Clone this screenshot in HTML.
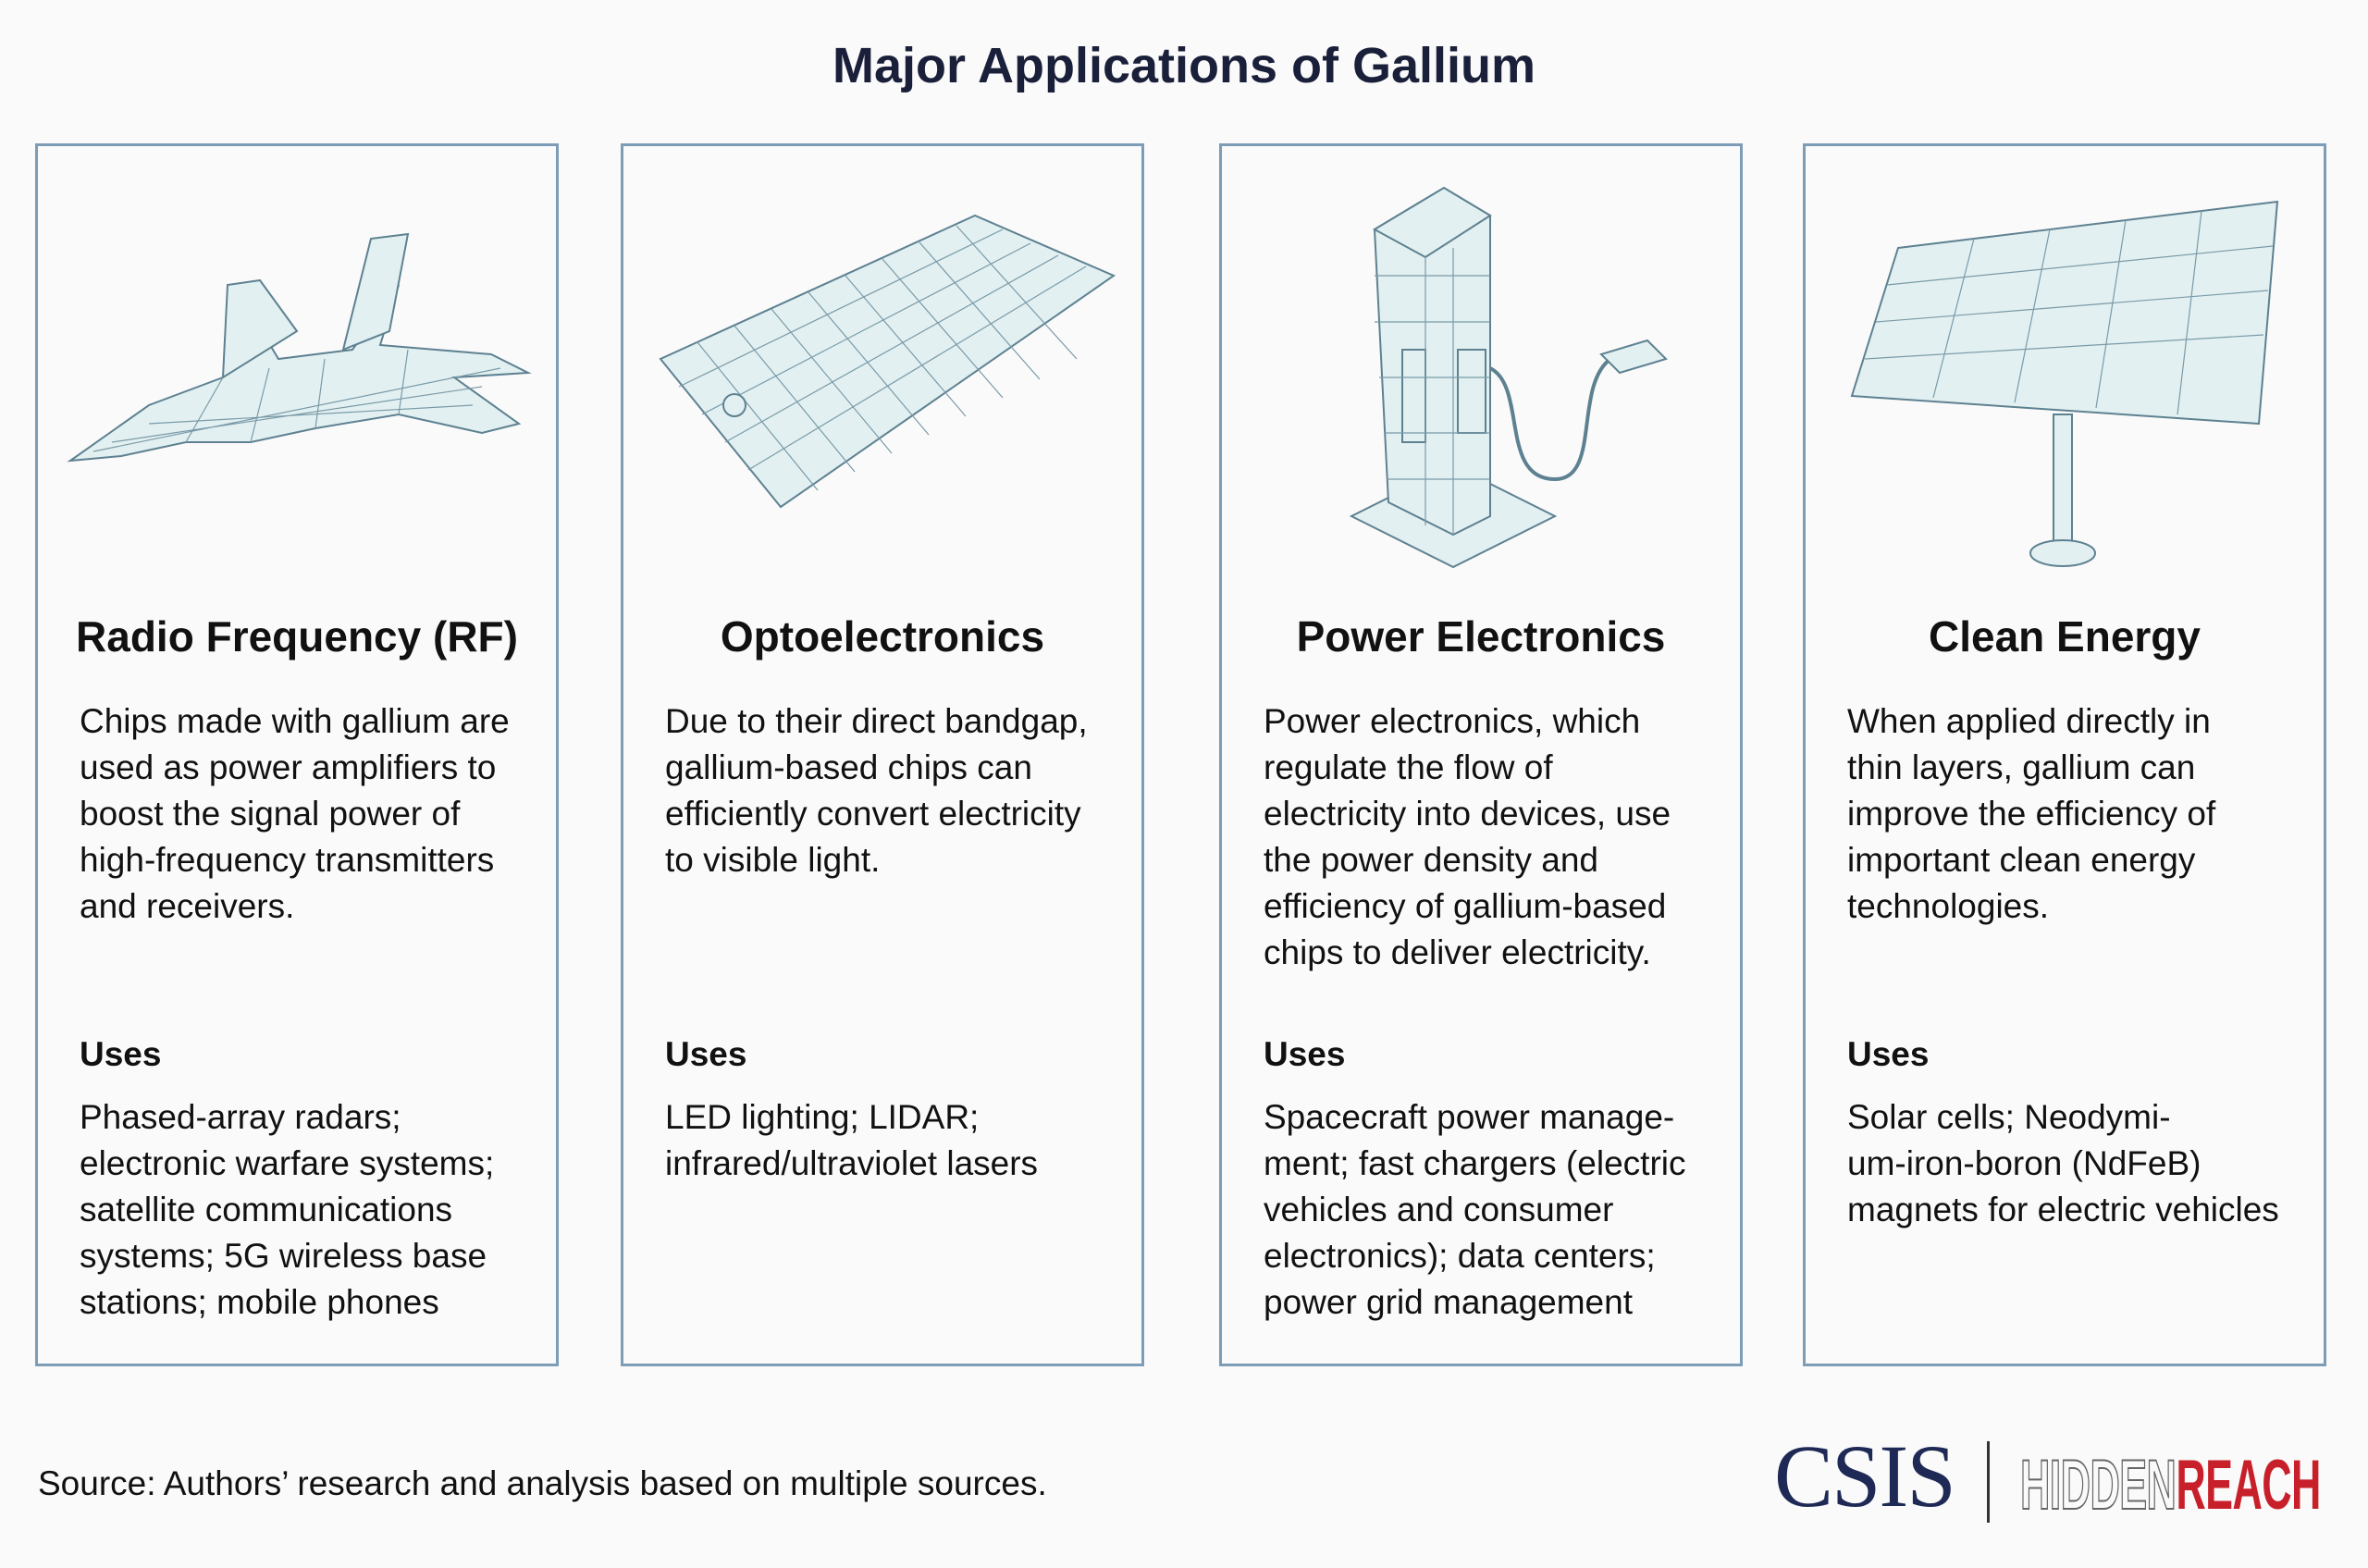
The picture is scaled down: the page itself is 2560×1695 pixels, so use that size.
<!DOCTYPE html>
<html><head><meta charset="utf-8"><style>
body{margin:0;width:2560px;height:1695px;background:#fafafa;font-family:"Liberation Sans",sans-serif;color:#111;position:relative;overflow:hidden}
.t{position:absolute;left:0;width:2560px;top:40px;text-align:center;font-weight:bold;font-size:54px;color:#1a1f3a}
.box{position:absolute;top:155px;width:566px;height:1322px;border:3px solid #7d9cb6;box-sizing:border-box}
.h{position:absolute;top:503px;left:0;width:100%;text-align:center;font-weight:bold;font-size:46px;color:#111}
.p{position:absolute;left:45px;top:597px;font-size:37px;line-height:50px;white-space:nowrap}
.u{position:absolute;left:45px;top:961px;font-size:37px;font-weight:bold}
.l{position:absolute;left:45px;top:1025px;font-size:37px;line-height:50px;white-space:nowrap}
svg{position:absolute}
.ill{fill:#e2f0f1;stroke:#5e8191;stroke-width:2}
.g{stroke:#7a9aa8;stroke-width:1.2;fill:none}
</style></head><body>
<div class="t">Major Applications of Gallium</div>

<div class="box" style="left:38px">
<svg width="562" height="400" style="left:0;top:0">
<polygon class="ill" points="35,340 120,280 200,250 230,180 260,230 340,220 390,150 370,215 490,225 530,245 450,250 520,300 480,310 390,290 300,305 230,320 160,320 90,335"/>
<polygon class="ill" points="200,250 205,150 240,145 280,200"/>
<polygon class="ill" points="330,220 360,100 400,95 380,200"/>
<path class="g" d="M60,330 L500,240 M80,320 L480,260 M120,300 L470,280 M160,320 L200,250 M230,320 L250,240 M300,305 L310,230 M390,290 L400,220"/>
</svg>
<div class="h">Radio Frequency (RF)</div>
<div class="p">Chips made with gallium are<br>used as power amplifiers to<br>boost the signal power of<br>high-frequency transmitters<br>and receivers.</div>
<div class="u">Uses</div>
<div class="l">Phased-array radars;<br>electronic warfare systems;<br>satellite communications<br>systems; 5G wireless base<br>stations; mobile phones</div>
</div>

<div class="box" style="left:671px">
<svg width="562" height="400" style="left:0;top:0">
<polygon class="ill" points="40,230 380,75 530,140 170,390"/>
<path class="g" d="M80,212 L210,372 M120,194 L250,352 M160,176 L290,332 M200,158 L330,312 M240,140 L370,292 M280,122 L410,272 M320,104 L450,252 M360,86 L490,230 M60,260 L410,90 M85,290 L440,105 M110,320 L470,118 M135,350 L500,130"/>
<circle cx="120" cy="280" r="12" class="ill"/>
</svg>
<div class="h">Optoelectronics</div>
<div class="p">Due to their direct bandgap,<br>gallium-based chips can<br>efficiently convert electricity<br>to visible light.</div>
<div class="u">Uses</div>
<div class="l">LED lighting; LIDAR;<br>infrared/ultraviolet lasers</div>
</div>

<div class="box" style="left:1318px">
<svg width="562" height="460" style="left:0;top:0">
<polygon class="ill" points="140,400 250,455 360,400 250,345"/>
<polygon class="ill" points="165,90 240,45 290,75 290,400 250,420 180,385"/>
<polygon class="ill" points="165,90 240,45 290,75 220,120"/>
<rect x="195" y="220" width="25" height="100" class="ill"/>
<rect x="255" y="220" width="30" height="90" class="ill"/>
<path d="M290,240 C330,260 300,360 360,360 C410,360 380,260 420,230" fill="none" stroke="#5e8191" stroke-width="4"/>
<polygon class="ill" points="410,225 460,210 480,230 430,245"/>
<path class="g" d="M165,140 L290,140 M165,190 L290,190 M170,250 L290,250 M175,310 L290,310 M178,360 L290,360 M220,120 L220,410 M250,110 L250,420"/>
</svg>
<div class="h">Power Electronics</div>
<div class="p">Power electronics, which<br>regulate the flow of<br>electricity into devices, use<br>the power density and<br>efficiency of gallium-based<br>chips to deliver electricity.</div>
<div class="u">Uses</div>
<div class="l">Spacecraft power manage-<br>ment; fast chargers (electric<br>vehicles and consumer<br>electronics); data centers;<br>power grid management</div>
</div>

<div class="box" style="left:1949px">
<svg width="562" height="470" style="left:0;top:0">
<rect x="268" y="290" width="20" height="140" class="ill"/>
<ellipse cx="278" cy="440" rx="35" ry="14" class="ill"/>
<polygon class="ill" points="100,110 510,60 490,300 50,270"/>
<path class="g" d="M182,100 L138,272 M264,90 L226,277 M346,80 L314,283 M428,70 L402,290 M88,150 L505,108 M76,190 L500,156 M64,230 L495,204"/>
</svg>
<div class="h">Clean Energy</div>
<div class="p">When applied directly in<br>thin layers, gallium can<br>improve the efficiency of<br>important clean energy<br>technologies.</div>
<div class="u">Uses</div>
<div class="l">Solar cells; Neodymi-<br>um-iron-boron (NdFeB)<br>magnets for electric vehicles</div>
</div>

<div style="position:absolute;left:41px;top:1583px;font-size:37px;white-space:nowrap">Source: Authors’ research and analysis based on multiple sources.</div>
<div style="position:absolute;left:1918px;top:1540px;font-family:'Liberation Serif',serif;font-size:96px;color:#1e2a55;letter-spacing:-2px">CSIS</div>
<div style="position:absolute;left:2148px;top:1558px;width:3px;height:88px;background:#333"></div>
<div style="position:absolute;left:2184px;top:1562px;font-size:76px;font-weight:bold;transform:scaleX(0.59);transform-origin:left;white-space:nowrap;letter-spacing:-1px"><span style="color:#fafafa;-webkit-text-stroke:2px #666">HIDDEN</span><span style="color:#c8202a">REACH</span></div>
</body></html>
